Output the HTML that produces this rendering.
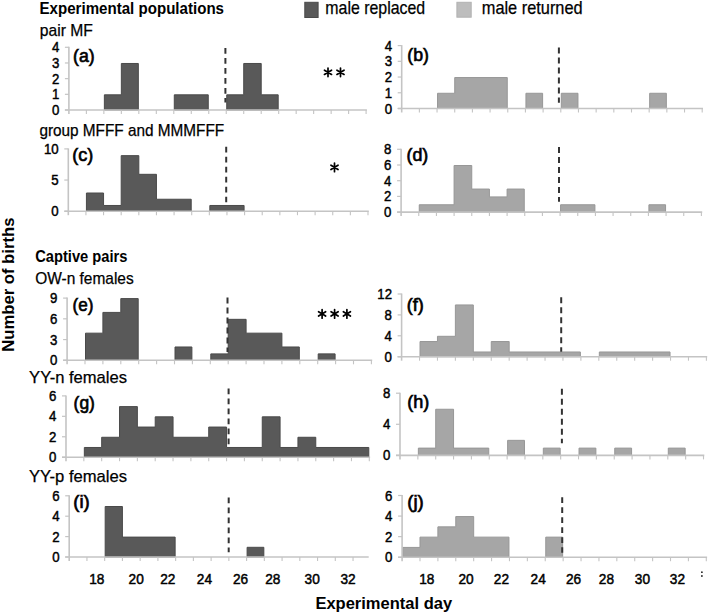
<!DOCTYPE html>
<html><head><meta charset="utf-8"><style>
html,body{margin:0;padding:0;background:#fff;}
svg{display:block;}
text{font-family:"Liberation Sans", sans-serif;fill:#000;}
.yl{font-size:14.4px;font-weight:normal;stroke:#000;stroke-width:0.45px;text-anchor:end;}
.xl{font-size:15.2px;font-weight:normal;stroke:#000;stroke-width:0.5px;text-anchor:middle;}
.pl{font-size:17.5px;font-weight:normal;stroke:#000;stroke-width:0.65px;}
.tb{font-weight:bold;}
.tr{font-weight:normal;stroke:#000;stroke-width:0.25px;}
</style></head><body>
<svg width="708" height="613" viewBox="0 0 708 613">
<rect width="708" height="613" fill="#fff"/>
<path d="M104.36 110L104.36 94.83L121.35 94.83L121.35 63.47L138.33 63.47L138.33 110Z" fill="#595959" stroke="#4a4a4a" stroke-width="1" stroke-linejoin="miter"/>
<path d="M174.29 110L174.29 94.83L208.26 94.83L208.26 110Z" fill="#595959" stroke="#4a4a4a" stroke-width="1" stroke-linejoin="miter"/>
<path d="M226.74 110L226.74 94.83L243.72 94.83L243.72 63.47L261.21 63.47L261.21 94.83L278.19 94.83L278.19 110Z" fill="#595959" stroke="#4a4a4a" stroke-width="1" stroke-linejoin="miter"/>
<line x1="68.9" y1="46.8" x2="68.9" y2="114" stroke="#c4c4c4" stroke-width="1.6"/>
<line x1="64.9" y1="110" x2="366.9" y2="110" stroke="#c4c4c4" stroke-width="1.6"/>
<line x1="64.9" y1="110" x2="68.9" y2="110" stroke="#c4c4c4" stroke-width="1.2"/>
<line x1="64.9" y1="94.33" x2="68.9" y2="94.33" stroke="#c4c4c4" stroke-width="1.2"/>
<line x1="64.9" y1="78.65" x2="68.9" y2="78.65" stroke="#c4c4c4" stroke-width="1.2"/>
<line x1="64.9" y1="62.97" x2="68.9" y2="62.97" stroke="#c4c4c4" stroke-width="1.2"/>
<line x1="64.9" y1="47.3" x2="68.9" y2="47.3" stroke="#c4c4c4" stroke-width="1.2"/>
<line x1="86.38" y1="110" x2="86.38" y2="114" stroke="#c4c4c4" stroke-width="1.1"/>
<line x1="103.86" y1="110" x2="103.86" y2="114" stroke="#c4c4c4" stroke-width="1.1"/>
<line x1="121.35" y1="110" x2="121.35" y2="114" stroke="#c4c4c4" stroke-width="1.1"/>
<line x1="138.83" y1="110" x2="138.83" y2="114" stroke="#c4c4c4" stroke-width="1.1"/>
<line x1="156.31" y1="110" x2="156.31" y2="114" stroke="#c4c4c4" stroke-width="1.1"/>
<line x1="173.79" y1="110" x2="173.79" y2="114" stroke="#c4c4c4" stroke-width="1.1"/>
<line x1="191.28" y1="110" x2="191.28" y2="114" stroke="#c4c4c4" stroke-width="1.1"/>
<line x1="208.76" y1="110" x2="208.76" y2="114" stroke="#c4c4c4" stroke-width="1.1"/>
<line x1="226.24" y1="110" x2="226.24" y2="114" stroke="#c4c4c4" stroke-width="1.1"/>
<line x1="243.72" y1="110" x2="243.72" y2="114" stroke="#c4c4c4" stroke-width="1.1"/>
<line x1="261.21" y1="110" x2="261.21" y2="114" stroke="#c4c4c4" stroke-width="1.1"/>
<line x1="278.69" y1="110" x2="278.69" y2="114" stroke="#c4c4c4" stroke-width="1.1"/>
<line x1="296.17" y1="110" x2="296.17" y2="114" stroke="#c4c4c4" stroke-width="1.1"/>
<line x1="313.65" y1="110" x2="313.65" y2="114" stroke="#c4c4c4" stroke-width="1.1"/>
<line x1="331.14" y1="110" x2="331.14" y2="114" stroke="#c4c4c4" stroke-width="1.1"/>
<line x1="348.62" y1="110" x2="348.62" y2="114" stroke="#c4c4c4" stroke-width="1.1"/>
<line x1="366.1" y1="110" x2="366.1" y2="114" stroke="#c4c4c4" stroke-width="1.1"/>
<line x1="225.4" y1="47.9" x2="225.4" y2="102.6" stroke="#333" stroke-width="2.0" stroke-dasharray="5.9 4.1"/>
<text transform="translate(59.3,115) scale(0.92,1)" class="yl">0</text>
<text transform="translate(59.3,99.33) scale(0.92,1)" class="yl">1</text>
<text transform="translate(59.3,83.65) scale(0.92,1)" class="yl">2</text>
<text transform="translate(59.3,67.97) scale(0.92,1)" class="yl">3</text>
<text transform="translate(59.3,52.3) scale(0.92,1)" class="yl">4</text>
<text x="73" y="61.58" class="pl" textLength="21.6" lengthAdjust="spacingAndGlyphs">(a)</text>
<path d="M437.55 108.5L437.55 93.28L454.73 93.28L454.73 77.55L507.26 77.55L507.26 108.5Z" fill="#a6a6a6" stroke="#979797" stroke-width="1" stroke-linejoin="miter"/>
<path d="M525.94 108.5L525.94 93.28L542.61 93.28L542.61 108.5Z" fill="#a6a6a6" stroke="#979797" stroke-width="1" stroke-linejoin="miter"/>
<path d="M561.29 108.5L561.29 93.28L577.96 93.28L577.96 108.5Z" fill="#a6a6a6" stroke="#979797" stroke-width="1" stroke-linejoin="miter"/>
<path d="M649.67 108.5L649.67 93.28L666.35 93.28L666.35 108.5Z" fill="#a6a6a6" stroke="#979797" stroke-width="1" stroke-linejoin="miter"/>
<line x1="401.7" y1="45.1" x2="401.7" y2="112.5" stroke="#c4c4c4" stroke-width="1.6"/>
<line x1="397.7" y1="108.5" x2="703" y2="108.5" stroke="#c4c4c4" stroke-width="1.6"/>
<line x1="397.7" y1="108.5" x2="401.7" y2="108.5" stroke="#c4c4c4" stroke-width="1.2"/>
<line x1="397.7" y1="92.78" x2="401.7" y2="92.78" stroke="#c4c4c4" stroke-width="1.2"/>
<line x1="397.7" y1="77.05" x2="401.7" y2="77.05" stroke="#c4c4c4" stroke-width="1.2"/>
<line x1="397.7" y1="61.33" x2="401.7" y2="61.33" stroke="#c4c4c4" stroke-width="1.2"/>
<line x1="397.7" y1="45.6" x2="401.7" y2="45.6" stroke="#c4c4c4" stroke-width="1.2"/>
<line x1="419.38" y1="108.5" x2="419.38" y2="112.5" stroke="#c4c4c4" stroke-width="1.1"/>
<line x1="437.05" y1="108.5" x2="437.05" y2="112.5" stroke="#c4c4c4" stroke-width="1.1"/>
<line x1="454.73" y1="108.5" x2="454.73" y2="112.5" stroke="#c4c4c4" stroke-width="1.1"/>
<line x1="472.41" y1="108.5" x2="472.41" y2="112.5" stroke="#c4c4c4" stroke-width="1.1"/>
<line x1="490.08" y1="108.5" x2="490.08" y2="112.5" stroke="#c4c4c4" stroke-width="1.1"/>
<line x1="507.76" y1="108.5" x2="507.76" y2="112.5" stroke="#c4c4c4" stroke-width="1.1"/>
<line x1="525.44" y1="108.5" x2="525.44" y2="112.5" stroke="#c4c4c4" stroke-width="1.1"/>
<line x1="543.11" y1="108.5" x2="543.11" y2="112.5" stroke="#c4c4c4" stroke-width="1.1"/>
<line x1="560.79" y1="108.5" x2="560.79" y2="112.5" stroke="#c4c4c4" stroke-width="1.1"/>
<line x1="578.46" y1="108.5" x2="578.46" y2="112.5" stroke="#c4c4c4" stroke-width="1.1"/>
<line x1="596.14" y1="108.5" x2="596.14" y2="112.5" stroke="#c4c4c4" stroke-width="1.1"/>
<line x1="613.82" y1="108.5" x2="613.82" y2="112.5" stroke="#c4c4c4" stroke-width="1.1"/>
<line x1="631.49" y1="108.5" x2="631.49" y2="112.5" stroke="#c4c4c4" stroke-width="1.1"/>
<line x1="649.17" y1="108.5" x2="649.17" y2="112.5" stroke="#c4c4c4" stroke-width="1.1"/>
<line x1="666.85" y1="108.5" x2="666.85" y2="112.5" stroke="#c4c4c4" stroke-width="1.1"/>
<line x1="684.52" y1="108.5" x2="684.52" y2="112.5" stroke="#c4c4c4" stroke-width="1.1"/>
<line x1="702.2" y1="108.5" x2="702.2" y2="112.5" stroke="#c4c4c4" stroke-width="1.1"/>
<line x1="558.9" y1="47.6" x2="558.9" y2="102.7" stroke="#333" stroke-width="2.0" stroke-dasharray="5.9 4.1"/>
<text transform="translate(392.1,113.5) scale(0.92,1)" class="yl">0</text>
<text transform="translate(392.1,97.78) scale(0.92,1)" class="yl">1</text>
<text transform="translate(392.1,82.05) scale(0.92,1)" class="yl">2</text>
<text transform="translate(392.1,66.33) scale(0.92,1)" class="yl">3</text>
<text transform="translate(392.1,50.6) scale(0.92,1)" class="yl">4</text>
<text x="407.3" y="61.38" class="pl" textLength="21.6" lengthAdjust="spacingAndGlyphs">(b)</text>
<path d="M86.43 211.2L86.43 193.01L103.56 193.01L103.56 205.47L121.19 205.47L121.19 155.63L138.82 155.63L138.82 174.32L156.45 174.32L156.45 199.24L191.21 199.24L191.21 211.2Z" fill="#595959" stroke="#4a4a4a" stroke-width="1" stroke-linejoin="miter"/>
<path d="M209.84 211.2L209.84 205.47L244.09 205.47L244.09 211.2Z" fill="#595959" stroke="#4a4a4a" stroke-width="1" stroke-linejoin="miter"/>
<line x1="68.3" y1="148.4" x2="68.3" y2="215.2" stroke="#c4c4c4" stroke-width="1.6"/>
<line x1="64.3" y1="211.2" x2="368.8" y2="211.2" stroke="#c4c4c4" stroke-width="1.6"/>
<line x1="64.3" y1="211.2" x2="68.3" y2="211.2" stroke="#c4c4c4" stroke-width="1.2"/>
<line x1="64.3" y1="180.05" x2="68.3" y2="180.05" stroke="#c4c4c4" stroke-width="1.2"/>
<line x1="64.3" y1="148.9" x2="68.3" y2="148.9" stroke="#c4c4c4" stroke-width="1.2"/>
<line x1="85.93" y1="211.2" x2="85.93" y2="215.2" stroke="#c4c4c4" stroke-width="1.1"/>
<line x1="103.56" y1="211.2" x2="103.56" y2="215.2" stroke="#c4c4c4" stroke-width="1.1"/>
<line x1="121.19" y1="211.2" x2="121.19" y2="215.2" stroke="#c4c4c4" stroke-width="1.1"/>
<line x1="138.82" y1="211.2" x2="138.82" y2="215.2" stroke="#c4c4c4" stroke-width="1.1"/>
<line x1="156.45" y1="211.2" x2="156.45" y2="215.2" stroke="#c4c4c4" stroke-width="1.1"/>
<line x1="174.08" y1="211.2" x2="174.08" y2="215.2" stroke="#c4c4c4" stroke-width="1.1"/>
<line x1="191.71" y1="211.2" x2="191.71" y2="215.2" stroke="#c4c4c4" stroke-width="1.1"/>
<line x1="209.34" y1="211.2" x2="209.34" y2="215.2" stroke="#c4c4c4" stroke-width="1.1"/>
<line x1="226.96" y1="211.2" x2="226.96" y2="215.2" stroke="#c4c4c4" stroke-width="1.1"/>
<line x1="244.59" y1="211.2" x2="244.59" y2="215.2" stroke="#c4c4c4" stroke-width="1.1"/>
<line x1="262.22" y1="211.2" x2="262.22" y2="215.2" stroke="#c4c4c4" stroke-width="1.1"/>
<line x1="279.85" y1="211.2" x2="279.85" y2="215.2" stroke="#c4c4c4" stroke-width="1.1"/>
<line x1="297.48" y1="211.2" x2="297.48" y2="215.2" stroke="#c4c4c4" stroke-width="1.1"/>
<line x1="315.11" y1="211.2" x2="315.11" y2="215.2" stroke="#c4c4c4" stroke-width="1.1"/>
<line x1="332.74" y1="211.2" x2="332.74" y2="215.2" stroke="#c4c4c4" stroke-width="1.1"/>
<line x1="350.37" y1="211.2" x2="350.37" y2="215.2" stroke="#c4c4c4" stroke-width="1.1"/>
<line x1="368" y1="211.2" x2="368" y2="215.2" stroke="#c4c4c4" stroke-width="1.1"/>
<line x1="226.2" y1="146.7" x2="226.2" y2="202.3" stroke="#333" stroke-width="2.0" stroke-dasharray="5.9 4.1"/>
<text transform="translate(58.7,216.2) scale(0.92,1)" class="yl">0</text>
<text transform="translate(58.7,185.05) scale(0.92,1)" class="yl">5</text>
<text transform="translate(58.7,153.9) scale(0.92,1)" class="yl">10</text>
<text x="72.2" y="161.28" class="pl" textLength="21" lengthAdjust="spacingAndGlyphs">(c)</text>
<path d="M419.26 212.1L419.26 204.75L454.09 204.75L454.09 165.5L471.76 165.5L471.76 189.05L489.42 189.05L489.42 196.9L507.09 196.9L507.09 189.05L524.25 189.05L524.25 212.1Z" fill="#a6a6a6" stroke="#979797" stroke-width="1" stroke-linejoin="miter"/>
<path d="M560.58 212.1L560.58 204.75L594.91 204.75L594.91 212.1Z" fill="#a6a6a6" stroke="#979797" stroke-width="1" stroke-linejoin="miter"/>
<path d="M648.91 212.1L648.91 204.75L665.57 204.75L665.57 212.1Z" fill="#a6a6a6" stroke="#979797" stroke-width="1" stroke-linejoin="miter"/>
<line x1="401.1" y1="148.8" x2="401.1" y2="216.1" stroke="#c4c4c4" stroke-width="1.6"/>
<line x1="397.1" y1="212.1" x2="702.2" y2="212.1" stroke="#c4c4c4" stroke-width="1.6"/>
<line x1="397.1" y1="212.1" x2="401.1" y2="212.1" stroke="#c4c4c4" stroke-width="1.2"/>
<line x1="397.1" y1="196.4" x2="401.1" y2="196.4" stroke="#c4c4c4" stroke-width="1.2"/>
<line x1="397.1" y1="180.7" x2="401.1" y2="180.7" stroke="#c4c4c4" stroke-width="1.2"/>
<line x1="397.1" y1="165" x2="401.1" y2="165" stroke="#c4c4c4" stroke-width="1.2"/>
<line x1="397.1" y1="149.3" x2="401.1" y2="149.3" stroke="#c4c4c4" stroke-width="1.2"/>
<line x1="418.76" y1="212.1" x2="418.76" y2="216.1" stroke="#c4c4c4" stroke-width="1.1"/>
<line x1="436.43" y1="212.1" x2="436.43" y2="216.1" stroke="#c4c4c4" stroke-width="1.1"/>
<line x1="454.09" y1="212.1" x2="454.09" y2="216.1" stroke="#c4c4c4" stroke-width="1.1"/>
<line x1="471.76" y1="212.1" x2="471.76" y2="216.1" stroke="#c4c4c4" stroke-width="1.1"/>
<line x1="489.42" y1="212.1" x2="489.42" y2="216.1" stroke="#c4c4c4" stroke-width="1.1"/>
<line x1="507.09" y1="212.1" x2="507.09" y2="216.1" stroke="#c4c4c4" stroke-width="1.1"/>
<line x1="524.75" y1="212.1" x2="524.75" y2="216.1" stroke="#c4c4c4" stroke-width="1.1"/>
<line x1="542.42" y1="212.1" x2="542.42" y2="216.1" stroke="#c4c4c4" stroke-width="1.1"/>
<line x1="560.08" y1="212.1" x2="560.08" y2="216.1" stroke="#c4c4c4" stroke-width="1.1"/>
<line x1="577.75" y1="212.1" x2="577.75" y2="216.1" stroke="#c4c4c4" stroke-width="1.1"/>
<line x1="595.41" y1="212.1" x2="595.41" y2="216.1" stroke="#c4c4c4" stroke-width="1.1"/>
<line x1="613.08" y1="212.1" x2="613.08" y2="216.1" stroke="#c4c4c4" stroke-width="1.1"/>
<line x1="630.74" y1="212.1" x2="630.74" y2="216.1" stroke="#c4c4c4" stroke-width="1.1"/>
<line x1="648.41" y1="212.1" x2="648.41" y2="216.1" stroke="#c4c4c4" stroke-width="1.1"/>
<line x1="666.07" y1="212.1" x2="666.07" y2="216.1" stroke="#c4c4c4" stroke-width="1.1"/>
<line x1="683.74" y1="212.1" x2="683.74" y2="216.1" stroke="#c4c4c4" stroke-width="1.1"/>
<line x1="701.4" y1="212.1" x2="701.4" y2="216.1" stroke="#c4c4c4" stroke-width="1.1"/>
<line x1="559" y1="147.1" x2="559" y2="201.7" stroke="#333" stroke-width="2.0" stroke-dasharray="5.9 4.1"/>
<text transform="translate(391.5,217.1) scale(0.92,1)" class="yl">0</text>
<text transform="translate(391.5,201.4) scale(0.92,1)" class="yl">2</text>
<text transform="translate(391.5,185.7) scale(0.92,1)" class="yl">4</text>
<text transform="translate(391.5,170) scale(0.92,1)" class="yl">6</text>
<text transform="translate(391.5,154.3) scale(0.92,1)" class="yl">8</text>
<text x="406.5" y="161.08" class="pl" textLength="21.8" lengthAdjust="spacingAndGlyphs">(d)</text>
<path d="M85.5 360.3L85.5 333.16L102.9 333.16L102.9 312.42L120.8 312.42L120.8 298.6L138.2 298.6L138.2 360.3Z" fill="#595959" stroke="#4a4a4a" stroke-width="1" stroke-linejoin="miter"/>
<path d="M175 360.3L175 346.98L191.9 346.98L191.9 360.3Z" fill="#595959" stroke="#4a4a4a" stroke-width="1" stroke-linejoin="miter"/>
<path d="M210.8 360.3L210.8 353.89L228.2 353.89L228.2 319.33L246.1 319.33L246.1 333.16L281.9 333.16L281.9 346.98L299.3 346.98L299.3 360.3Z" fill="#595959" stroke="#4a4a4a" stroke-width="1" stroke-linejoin="miter"/>
<path d="M318.2 360.3L318.2 353.89L335.1 353.89L335.1 360.3Z" fill="#595959" stroke="#4a4a4a" stroke-width="1" stroke-linejoin="miter"/>
<line x1="67.1" y1="297.6" x2="67.1" y2="364.3" stroke="#c4c4c4" stroke-width="1.6"/>
<line x1="63.1" y1="360.3" x2="372.2" y2="360.3" stroke="#c4c4c4" stroke-width="1.6"/>
<line x1="63.1" y1="360.3" x2="67.1" y2="360.3" stroke="#c4c4c4" stroke-width="1.2"/>
<line x1="63.1" y1="339.57" x2="67.1" y2="339.57" stroke="#c4c4c4" stroke-width="1.2"/>
<line x1="63.1" y1="318.83" x2="67.1" y2="318.83" stroke="#c4c4c4" stroke-width="1.2"/>
<line x1="63.1" y1="298.1" x2="67.1" y2="298.1" stroke="#c4c4c4" stroke-width="1.2"/>
<line x1="85" y1="360.3" x2="85" y2="364.3" stroke="#c4c4c4" stroke-width="1.1"/>
<line x1="102.9" y1="360.3" x2="102.9" y2="364.3" stroke="#c4c4c4" stroke-width="1.1"/>
<line x1="120.8" y1="360.3" x2="120.8" y2="364.3" stroke="#c4c4c4" stroke-width="1.1"/>
<line x1="138.7" y1="360.3" x2="138.7" y2="364.3" stroke="#c4c4c4" stroke-width="1.1"/>
<line x1="156.6" y1="360.3" x2="156.6" y2="364.3" stroke="#c4c4c4" stroke-width="1.1"/>
<line x1="174.5" y1="360.3" x2="174.5" y2="364.3" stroke="#c4c4c4" stroke-width="1.1"/>
<line x1="192.4" y1="360.3" x2="192.4" y2="364.3" stroke="#c4c4c4" stroke-width="1.1"/>
<line x1="210.3" y1="360.3" x2="210.3" y2="364.3" stroke="#c4c4c4" stroke-width="1.1"/>
<line x1="228.2" y1="360.3" x2="228.2" y2="364.3" stroke="#c4c4c4" stroke-width="1.1"/>
<line x1="246.1" y1="360.3" x2="246.1" y2="364.3" stroke="#c4c4c4" stroke-width="1.1"/>
<line x1="264" y1="360.3" x2="264" y2="364.3" stroke="#c4c4c4" stroke-width="1.1"/>
<line x1="281.9" y1="360.3" x2="281.9" y2="364.3" stroke="#c4c4c4" stroke-width="1.1"/>
<line x1="299.8" y1="360.3" x2="299.8" y2="364.3" stroke="#c4c4c4" stroke-width="1.1"/>
<line x1="317.7" y1="360.3" x2="317.7" y2="364.3" stroke="#c4c4c4" stroke-width="1.1"/>
<line x1="335.6" y1="360.3" x2="335.6" y2="364.3" stroke="#c4c4c4" stroke-width="1.1"/>
<line x1="353.5" y1="360.3" x2="353.5" y2="364.3" stroke="#c4c4c4" stroke-width="1.1"/>
<line x1="371.4" y1="360.3" x2="371.4" y2="364.3" stroke="#c4c4c4" stroke-width="1.1"/>
<line x1="227.5" y1="297.5" x2="227.5" y2="352.1" stroke="#333" stroke-width="2.0" stroke-dasharray="5.9 4.1"/>
<text transform="translate(57.5,365.3) scale(0.92,1)" class="yl">0</text>
<text transform="translate(57.5,344.57) scale(0.92,1)" class="yl">3</text>
<text transform="translate(57.5,323.83) scale(0.92,1)" class="yl">6</text>
<text transform="translate(57.5,303.1) scale(0.92,1)" class="yl">9</text>
<text x="72.5" y="311.08" class="pl" textLength="20.9" lengthAdjust="spacingAndGlyphs">(e)</text>
<path d="M420.03 356.7L420.03 341.52L437.46 341.52L437.46 336.3L455.39 336.3L455.39 304.95L473.32 304.95L473.32 351.97L491.25 351.97L491.25 341.52L509.18 341.52L509.18 351.97L580.39 351.97L580.39 356.7Z" fill="#a6a6a6" stroke="#979797" stroke-width="1" stroke-linejoin="miter"/>
<path d="M599.32 356.7L599.32 351.97L670.04 351.97L670.04 356.7Z" fill="#a6a6a6" stroke="#979797" stroke-width="1" stroke-linejoin="miter"/>
<line x1="401.6" y1="293.5" x2="401.6" y2="360.7" stroke="#c4c4c4" stroke-width="1.6"/>
<line x1="397.6" y1="356.7" x2="707.2" y2="356.7" stroke="#c4c4c4" stroke-width="1.6"/>
<line x1="397.6" y1="356.7" x2="401.6" y2="356.7" stroke="#c4c4c4" stroke-width="1.2"/>
<line x1="397.6" y1="335.8" x2="401.6" y2="335.8" stroke="#c4c4c4" stroke-width="1.2"/>
<line x1="397.6" y1="314.9" x2="401.6" y2="314.9" stroke="#c4c4c4" stroke-width="1.2"/>
<line x1="397.6" y1="294" x2="401.6" y2="294" stroke="#c4c4c4" stroke-width="1.2"/>
<line x1="419.53" y1="356.7" x2="419.53" y2="360.7" stroke="#c4c4c4" stroke-width="1.1"/>
<line x1="437.46" y1="356.7" x2="437.46" y2="360.7" stroke="#c4c4c4" stroke-width="1.1"/>
<line x1="455.39" y1="356.7" x2="455.39" y2="360.7" stroke="#c4c4c4" stroke-width="1.1"/>
<line x1="473.32" y1="356.7" x2="473.32" y2="360.7" stroke="#c4c4c4" stroke-width="1.1"/>
<line x1="491.25" y1="356.7" x2="491.25" y2="360.7" stroke="#c4c4c4" stroke-width="1.1"/>
<line x1="509.18" y1="356.7" x2="509.18" y2="360.7" stroke="#c4c4c4" stroke-width="1.1"/>
<line x1="527.11" y1="356.7" x2="527.11" y2="360.7" stroke="#c4c4c4" stroke-width="1.1"/>
<line x1="545.04" y1="356.7" x2="545.04" y2="360.7" stroke="#c4c4c4" stroke-width="1.1"/>
<line x1="562.96" y1="356.7" x2="562.96" y2="360.7" stroke="#c4c4c4" stroke-width="1.1"/>
<line x1="580.89" y1="356.7" x2="580.89" y2="360.7" stroke="#c4c4c4" stroke-width="1.1"/>
<line x1="598.82" y1="356.7" x2="598.82" y2="360.7" stroke="#c4c4c4" stroke-width="1.1"/>
<line x1="616.75" y1="356.7" x2="616.75" y2="360.7" stroke="#c4c4c4" stroke-width="1.1"/>
<line x1="634.68" y1="356.7" x2="634.68" y2="360.7" stroke="#c4c4c4" stroke-width="1.1"/>
<line x1="652.61" y1="356.7" x2="652.61" y2="360.7" stroke="#c4c4c4" stroke-width="1.1"/>
<line x1="670.54" y1="356.7" x2="670.54" y2="360.7" stroke="#c4c4c4" stroke-width="1.1"/>
<line x1="688.47" y1="356.7" x2="688.47" y2="360.7" stroke="#c4c4c4" stroke-width="1.1"/>
<line x1="706.4" y1="356.7" x2="706.4" y2="360.7" stroke="#c4c4c4" stroke-width="1.1"/>
<line x1="561.2" y1="297.3" x2="561.2" y2="351.7" stroke="#333" stroke-width="2.0" stroke-dasharray="5.9 4.1"/>
<text transform="translate(392,361.7) scale(0.92,1)" class="yl">0</text>
<text transform="translate(392,340.8) scale(0.92,1)" class="yl">4</text>
<text transform="translate(392,319.9) scale(0.92,1)" class="yl">8</text>
<text transform="translate(392,299) scale(0.92,1)" class="yl">12</text>
<text x="406.7" y="311.08" class="pl" textLength="17.1" lengthAdjust="spacingAndGlyphs">(f)</text>
<path d="M84.34 457.2L84.34 447.48L101.68 447.48L101.68 437.27L119.52 437.27L119.52 406.62L137.36 406.62L137.36 427.05L155.21 427.05L155.21 416.83L173.05 416.83L173.05 437.27L208.73 437.27L208.73 427.05L226.57 427.05L226.57 447.48L262.25 447.48L262.25 416.83L280.09 416.83L280.09 447.48L297.94 447.48L297.94 437.27L315.78 437.27L315.78 447.48L368.8 447.48L368.8 457.2Z" fill="#595959" stroke="#4a4a4a" stroke-width="1" stroke-linejoin="miter"/>
<line x1="66" y1="395.4" x2="66" y2="461.2" stroke="#c4c4c4" stroke-width="1.6"/>
<line x1="62" y1="457.2" x2="370.1" y2="457.2" stroke="#c4c4c4" stroke-width="1.6"/>
<line x1="62" y1="457.2" x2="66" y2="457.2" stroke="#c4c4c4" stroke-width="1.2"/>
<line x1="62" y1="436.77" x2="66" y2="436.77" stroke="#c4c4c4" stroke-width="1.2"/>
<line x1="62" y1="416.33" x2="66" y2="416.33" stroke="#c4c4c4" stroke-width="1.2"/>
<line x1="62" y1="395.9" x2="66" y2="395.9" stroke="#c4c4c4" stroke-width="1.2"/>
<line x1="83.84" y1="457.2" x2="83.84" y2="461.2" stroke="#c4c4c4" stroke-width="1.1"/>
<line x1="101.68" y1="457.2" x2="101.68" y2="461.2" stroke="#c4c4c4" stroke-width="1.1"/>
<line x1="119.52" y1="457.2" x2="119.52" y2="461.2" stroke="#c4c4c4" stroke-width="1.1"/>
<line x1="137.36" y1="457.2" x2="137.36" y2="461.2" stroke="#c4c4c4" stroke-width="1.1"/>
<line x1="155.21" y1="457.2" x2="155.21" y2="461.2" stroke="#c4c4c4" stroke-width="1.1"/>
<line x1="173.05" y1="457.2" x2="173.05" y2="461.2" stroke="#c4c4c4" stroke-width="1.1"/>
<line x1="190.89" y1="457.2" x2="190.89" y2="461.2" stroke="#c4c4c4" stroke-width="1.1"/>
<line x1="208.73" y1="457.2" x2="208.73" y2="461.2" stroke="#c4c4c4" stroke-width="1.1"/>
<line x1="226.57" y1="457.2" x2="226.57" y2="461.2" stroke="#c4c4c4" stroke-width="1.1"/>
<line x1="244.41" y1="457.2" x2="244.41" y2="461.2" stroke="#c4c4c4" stroke-width="1.1"/>
<line x1="262.25" y1="457.2" x2="262.25" y2="461.2" stroke="#c4c4c4" stroke-width="1.1"/>
<line x1="280.09" y1="457.2" x2="280.09" y2="461.2" stroke="#c4c4c4" stroke-width="1.1"/>
<line x1="297.94" y1="457.2" x2="297.94" y2="461.2" stroke="#c4c4c4" stroke-width="1.1"/>
<line x1="315.78" y1="457.2" x2="315.78" y2="461.2" stroke="#c4c4c4" stroke-width="1.1"/>
<line x1="333.62" y1="457.2" x2="333.62" y2="461.2" stroke="#c4c4c4" stroke-width="1.1"/>
<line x1="351.46" y1="457.2" x2="351.46" y2="461.2" stroke="#c4c4c4" stroke-width="1.1"/>
<line x1="369.3" y1="457.2" x2="369.3" y2="461.2" stroke="#c4c4c4" stroke-width="1.1"/>
<line x1="228.6" y1="388.4" x2="228.6" y2="444.3" stroke="#333" stroke-width="2.0" stroke-dasharray="5.9 4.1"/>
<text transform="translate(56.4,462.2) scale(0.92,1)" class="yl">0</text>
<text transform="translate(56.4,441.77) scale(0.92,1)" class="yl">2</text>
<text transform="translate(56.4,421.33) scale(0.92,1)" class="yl">4</text>
<text transform="translate(56.4,400.9) scale(0.92,1)" class="yl">6</text>
<text x="73.6" y="408.58" class="pl" textLength="21.3" lengthAdjust="spacingAndGlyphs">(g)</text>
<path d="M418.35 455.4L418.35 448.12L435.71 448.12L435.71 409.25L453.56 409.25L453.56 448.12L488.76 448.12L488.76 455.4Z" fill="#a6a6a6" stroke="#979797" stroke-width="1" stroke-linejoin="miter"/>
<path d="M507.62 455.4L507.62 440.35L524.47 440.35L524.47 455.4Z" fill="#a6a6a6" stroke="#979797" stroke-width="1" stroke-linejoin="miter"/>
<path d="M543.32 455.4L543.32 448.12L560.18 448.12L560.18 455.4Z" fill="#a6a6a6" stroke="#979797" stroke-width="1" stroke-linejoin="miter"/>
<path d="M579.03 455.4L579.03 448.12L595.88 448.12L595.88 455.4Z" fill="#a6a6a6" stroke="#979797" stroke-width="1" stroke-linejoin="miter"/>
<path d="M614.74 455.4L614.74 448.12L631.59 448.12L631.59 455.4Z" fill="#a6a6a6" stroke="#979797" stroke-width="1" stroke-linejoin="miter"/>
<path d="M668.29 455.4L668.29 448.12L685.15 448.12L685.15 455.4Z" fill="#a6a6a6" stroke="#979797" stroke-width="1" stroke-linejoin="miter"/>
<line x1="400" y1="392.7" x2="400" y2="459.4" stroke="#c4c4c4" stroke-width="1.6"/>
<line x1="396" y1="455.4" x2="704.3" y2="455.4" stroke="#c4c4c4" stroke-width="1.6"/>
<line x1="396" y1="455.4" x2="400" y2="455.4" stroke="#c4c4c4" stroke-width="1.2"/>
<line x1="396" y1="424.3" x2="400" y2="424.3" stroke="#c4c4c4" stroke-width="1.2"/>
<line x1="396" y1="393.2" x2="400" y2="393.2" stroke="#c4c4c4" stroke-width="1.2"/>
<line x1="417.85" y1="455.4" x2="417.85" y2="459.4" stroke="#c4c4c4" stroke-width="1.1"/>
<line x1="435.71" y1="455.4" x2="435.71" y2="459.4" stroke="#c4c4c4" stroke-width="1.1"/>
<line x1="453.56" y1="455.4" x2="453.56" y2="459.4" stroke="#c4c4c4" stroke-width="1.1"/>
<line x1="471.41" y1="455.4" x2="471.41" y2="459.4" stroke="#c4c4c4" stroke-width="1.1"/>
<line x1="489.26" y1="455.4" x2="489.26" y2="459.4" stroke="#c4c4c4" stroke-width="1.1"/>
<line x1="507.12" y1="455.4" x2="507.12" y2="459.4" stroke="#c4c4c4" stroke-width="1.1"/>
<line x1="524.97" y1="455.4" x2="524.97" y2="459.4" stroke="#c4c4c4" stroke-width="1.1"/>
<line x1="542.82" y1="455.4" x2="542.82" y2="459.4" stroke="#c4c4c4" stroke-width="1.1"/>
<line x1="560.68" y1="455.4" x2="560.68" y2="459.4" stroke="#c4c4c4" stroke-width="1.1"/>
<line x1="578.53" y1="455.4" x2="578.53" y2="459.4" stroke="#c4c4c4" stroke-width="1.1"/>
<line x1="596.38" y1="455.4" x2="596.38" y2="459.4" stroke="#c4c4c4" stroke-width="1.1"/>
<line x1="614.24" y1="455.4" x2="614.24" y2="459.4" stroke="#c4c4c4" stroke-width="1.1"/>
<line x1="632.09" y1="455.4" x2="632.09" y2="459.4" stroke="#c4c4c4" stroke-width="1.1"/>
<line x1="649.94" y1="455.4" x2="649.94" y2="459.4" stroke="#c4c4c4" stroke-width="1.1"/>
<line x1="667.79" y1="455.4" x2="667.79" y2="459.4" stroke="#c4c4c4" stroke-width="1.1"/>
<line x1="685.65" y1="455.4" x2="685.65" y2="459.4" stroke="#c4c4c4" stroke-width="1.1"/>
<line x1="703.5" y1="455.4" x2="703.5" y2="459.4" stroke="#c4c4c4" stroke-width="1.1"/>
<line x1="561.9" y1="388.8" x2="561.9" y2="443.3" stroke="#333" stroke-width="2.0" stroke-dasharray="5.9 4.1"/>
<text transform="translate(390.4,460.4) scale(0.92,1)" class="yl">0</text>
<text transform="translate(390.4,429.3) scale(0.92,1)" class="yl">4</text>
<text transform="translate(390.4,398.2) scale(0.92,1)" class="yl">8</text>
<text x="407.3" y="408.33" class="pl" textLength="22.1" lengthAdjust="spacingAndGlyphs">(h)</text>
<path d="M105.18 557L105.18 506.5L122.42 506.5L122.42 537.1L175.14 537.1L175.14 557Z" fill="#595959" stroke="#4a4a4a" stroke-width="1" stroke-linejoin="miter"/>
<path d="M247.1 557L247.1 547.3L263.84 547.3L263.84 557Z" fill="#595959" stroke="#4a4a4a" stroke-width="1" stroke-linejoin="miter"/>
<line x1="69.2" y1="495.3" x2="69.2" y2="561" stroke="#c4c4c4" stroke-width="1.6"/>
<line x1="65.2" y1="557" x2="368.7" y2="557" stroke="#c4c4c4" stroke-width="1.6"/>
<line x1="65.2" y1="557" x2="69.2" y2="557" stroke="#c4c4c4" stroke-width="1.2"/>
<line x1="65.2" y1="536.6" x2="69.2" y2="536.6" stroke="#c4c4c4" stroke-width="1.2"/>
<line x1="65.2" y1="516.2" x2="69.2" y2="516.2" stroke="#c4c4c4" stroke-width="1.2"/>
<line x1="65.2" y1="495.8" x2="69.2" y2="495.8" stroke="#c4c4c4" stroke-width="1.2"/>
<line x1="86.94" y1="557" x2="86.94" y2="561" stroke="#c4c4c4" stroke-width="1.1"/>
<line x1="104.68" y1="557" x2="104.68" y2="561" stroke="#c4c4c4" stroke-width="1.1"/>
<line x1="122.42" y1="557" x2="122.42" y2="561" stroke="#c4c4c4" stroke-width="1.1"/>
<line x1="140.16" y1="557" x2="140.16" y2="561" stroke="#c4c4c4" stroke-width="1.1"/>
<line x1="157.9" y1="557" x2="157.9" y2="561" stroke="#c4c4c4" stroke-width="1.1"/>
<line x1="175.64" y1="557" x2="175.64" y2="561" stroke="#c4c4c4" stroke-width="1.1"/>
<line x1="193.38" y1="557" x2="193.38" y2="561" stroke="#c4c4c4" stroke-width="1.1"/>
<line x1="211.12" y1="557" x2="211.12" y2="561" stroke="#c4c4c4" stroke-width="1.1"/>
<line x1="228.86" y1="557" x2="228.86" y2="561" stroke="#c4c4c4" stroke-width="1.1"/>
<line x1="246.6" y1="557" x2="246.6" y2="561" stroke="#c4c4c4" stroke-width="1.1"/>
<line x1="264.34" y1="557" x2="264.34" y2="561" stroke="#c4c4c4" stroke-width="1.1"/>
<line x1="282.08" y1="557" x2="282.08" y2="561" stroke="#c4c4c4" stroke-width="1.1"/>
<line x1="299.82" y1="557" x2="299.82" y2="561" stroke="#c4c4c4" stroke-width="1.1"/>
<line x1="317.56" y1="557" x2="317.56" y2="561" stroke="#c4c4c4" stroke-width="1.1"/>
<line x1="335.3" y1="557" x2="335.3" y2="561" stroke="#c4c4c4" stroke-width="1.1"/>
<line x1="353.04" y1="557" x2="353.04" y2="561" stroke="#c4c4c4" stroke-width="1.1"/>
<line x1="228.7" y1="497.4" x2="228.7" y2="552.2" stroke="#333" stroke-width="2.0" stroke-dasharray="5.9 4.1"/>
<text transform="translate(59.6,562) scale(0.92,1)" class="yl">0</text>
<text transform="translate(59.6,541.6) scale(0.92,1)" class="yl">2</text>
<text transform="translate(59.6,521.2) scale(0.92,1)" class="yl">4</text>
<text transform="translate(59.6,500.8) scale(0.92,1)" class="yl">6</text>
<text x="73.3" y="507.53" class="pl" textLength="16.5" lengthAdjust="spacingAndGlyphs">(i)</text>
<path d="M402.6 557.2L402.6 547.42L419.99 547.42L419.99 537.13L437.89 537.13L437.89 526.85L455.78 526.85L455.78 516.57L473.68 516.57L473.68 537.13L508.96 537.13L508.96 557.2Z" fill="#a6a6a6" stroke="#979797" stroke-width="1" stroke-linejoin="miter"/>
<path d="M545.75 557.2L545.75 537.13L562.65 537.13L562.65 557.2Z" fill="#a6a6a6" stroke="#979797" stroke-width="1" stroke-linejoin="miter"/>
<line x1="402.1" y1="495" x2="402.1" y2="561.2" stroke="#c4c4c4" stroke-width="1.6"/>
<line x1="398.1" y1="557.2" x2="707.1" y2="557.2" stroke="#c4c4c4" stroke-width="1.6"/>
<line x1="398.1" y1="557.2" x2="402.1" y2="557.2" stroke="#c4c4c4" stroke-width="1.2"/>
<line x1="398.1" y1="536.63" x2="402.1" y2="536.63" stroke="#c4c4c4" stroke-width="1.2"/>
<line x1="398.1" y1="516.07" x2="402.1" y2="516.07" stroke="#c4c4c4" stroke-width="1.2"/>
<line x1="398.1" y1="495.5" x2="402.1" y2="495.5" stroke="#c4c4c4" stroke-width="1.2"/>
<line x1="419.99" y1="557.2" x2="419.99" y2="561.2" stroke="#c4c4c4" stroke-width="1.1"/>
<line x1="437.89" y1="557.2" x2="437.89" y2="561.2" stroke="#c4c4c4" stroke-width="1.1"/>
<line x1="455.78" y1="557.2" x2="455.78" y2="561.2" stroke="#c4c4c4" stroke-width="1.1"/>
<line x1="473.68" y1="557.2" x2="473.68" y2="561.2" stroke="#c4c4c4" stroke-width="1.1"/>
<line x1="491.57" y1="557.2" x2="491.57" y2="561.2" stroke="#c4c4c4" stroke-width="1.1"/>
<line x1="509.46" y1="557.2" x2="509.46" y2="561.2" stroke="#c4c4c4" stroke-width="1.1"/>
<line x1="527.36" y1="557.2" x2="527.36" y2="561.2" stroke="#c4c4c4" stroke-width="1.1"/>
<line x1="545.25" y1="557.2" x2="545.25" y2="561.2" stroke="#c4c4c4" stroke-width="1.1"/>
<line x1="563.15" y1="557.2" x2="563.15" y2="561.2" stroke="#c4c4c4" stroke-width="1.1"/>
<line x1="581.04" y1="557.2" x2="581.04" y2="561.2" stroke="#c4c4c4" stroke-width="1.1"/>
<line x1="598.94" y1="557.2" x2="598.94" y2="561.2" stroke="#c4c4c4" stroke-width="1.1"/>
<line x1="616.83" y1="557.2" x2="616.83" y2="561.2" stroke="#c4c4c4" stroke-width="1.1"/>
<line x1="634.72" y1="557.2" x2="634.72" y2="561.2" stroke="#c4c4c4" stroke-width="1.1"/>
<line x1="652.62" y1="557.2" x2="652.62" y2="561.2" stroke="#c4c4c4" stroke-width="1.1"/>
<line x1="670.51" y1="557.2" x2="670.51" y2="561.2" stroke="#c4c4c4" stroke-width="1.1"/>
<line x1="688.41" y1="557.2" x2="688.41" y2="561.2" stroke="#c4c4c4" stroke-width="1.1"/>
<line x1="706.3" y1="557.2" x2="706.3" y2="561.2" stroke="#c4c4c4" stroke-width="1.1"/>
<line x1="562.2" y1="497.2" x2="562.2" y2="552.7" stroke="#333" stroke-width="2.0" stroke-dasharray="5.9 4.1"/>
<text transform="translate(392.5,562.2) scale(0.92,1)" class="yl">0</text>
<text transform="translate(392.5,541.63) scale(0.92,1)" class="yl">2</text>
<text transform="translate(392.5,521.07) scale(0.92,1)" class="yl">4</text>
<text transform="translate(392.5,500.5) scale(0.92,1)" class="yl">6</text>
<text x="407.3" y="507.53" class="pl" textLength="16.5" lengthAdjust="spacingAndGlyphs">(j)</text>
<text transform="translate(96.85,584.0) scale(0.9,1)" class="xl">18</text>
<text transform="translate(136.2,584.0) scale(0.9,1)" class="xl">20</text>
<text transform="translate(167.8,584.0) scale(0.9,1)" class="xl">22</text>
<text transform="translate(204.4,584.0) scale(0.9,1)" class="xl">24</text>
<text transform="translate(240.6,584.0) scale(0.9,1)" class="xl">26</text>
<text transform="translate(272.8,584.0) scale(0.9,1)" class="xl">28</text>
<text transform="translate(312.2,584.0) scale(0.9,1)" class="xl">30</text>
<text transform="translate(348.05,584.0) scale(0.9,1)" class="xl">32</text>
<text transform="translate(426.8,584.0) scale(0.9,1)" class="xl">18</text>
<text transform="translate(466,584.0) scale(0.9,1)" class="xl">20</text>
<text transform="translate(501.4,584.0) scale(0.9,1)" class="xl">22</text>
<text transform="translate(538.15,584.0) scale(0.9,1)" class="xl">24</text>
<text transform="translate(573.55,584.0) scale(0.9,1)" class="xl">26</text>
<text transform="translate(606.4,584.0) scale(0.9,1)" class="xl">28</text>
<text transform="translate(642.4,584.0) scale(0.9,1)" class="xl">30</text>
<text transform="translate(677.45,584.0) scale(0.9,1)" class="xl">32</text>
<path d="M328 76.6L328 68M324.46 74.45L331.54 70.15M324.46 70.15L331.54 74.45" stroke="#000" stroke-width="1.7" stroke-linecap="round" fill="none"/>
<path d="M340.5 76.6L340.5 68M336.96 74.45L344.04 70.15M336.96 70.15L344.04 74.45" stroke="#000" stroke-width="1.7" stroke-linecap="round" fill="none"/>
<path d="M334.5 171.7L334.5 163.1M330.96 169.55L338.04 165.25M330.96 165.25L338.04 169.55" stroke="#000" stroke-width="1.7" stroke-linecap="round" fill="none"/>
<path d="M322.1 318.2L322.1 309.6M318.56 316.05L325.64 311.75M318.56 311.75L325.64 316.05" stroke="#000" stroke-width="1.7" stroke-linecap="round" fill="none"/>
<path d="M334.6 318.2L334.6 309.6M331.06 316.05L338.14 311.75M331.06 311.75L338.14 316.05" stroke="#000" stroke-width="1.7" stroke-linecap="round" fill="none"/>
<path d="M346.9 318.2L346.9 309.6M343.36 316.05L350.44 311.75M343.36 311.75L350.44 316.05" stroke="#000" stroke-width="1.7" stroke-linecap="round" fill="none"/>
<rect x="304.8" y="2.3" width="13.3" height="15.2" fill="#595959" stroke="#4a4a4a" stroke-width="1"/>
<rect x="456.9" y="2.3" width="14.3" height="14.9" fill="#bdbdbd" stroke="#b2b2b2" stroke-width="1"/>
<text x="39.5" y="13.8" class="tb" style="font-size:16.2px" textLength="184.5" lengthAdjust="spacingAndGlyphs">Experimental populations</text>
<text x="39.8" y="35.6" class="tr" style="font-size:15.9px" textLength="53" lengthAdjust="spacingAndGlyphs">pair MF</text>
<text x="39.4" y="135.8" class="tr" style="font-size:15.9px" textLength="184.8" lengthAdjust="spacingAndGlyphs">group MFFF and MMMFFF</text>
<text x="35.2" y="261.8" class="tb" style="font-size:16.2px" textLength="92.2" lengthAdjust="spacingAndGlyphs">Captive pairs</text>
<text x="35.2" y="284.2" class="tr" style="font-size:15.9px" textLength="98.5" lengthAdjust="spacingAndGlyphs">OW-n females</text>
<text x="29.1" y="382.8" class="tr" style="font-size:17.0px" textLength="97.9" lengthAdjust="spacingAndGlyphs">YY-n females</text>
<text x="28.9" y="481.6" class="tr" style="font-size:17.0px" textLength="98.1" lengthAdjust="spacingAndGlyphs">YY-p females</text>
<text x="315.4" y="608.5" class="tb" style="font-size:16.4px" textLength="136.7" lengthAdjust="spacingAndGlyphs">Experimental day</text>
<text x="325.3" y="14.1" class="tr" style="font-size:17.8px" textLength="99.9" lengthAdjust="spacingAndGlyphs">male replaced</text>
<text x="481.8" y="14.1" class="tr" style="font-size:17.8px" textLength="100.8" lengthAdjust="spacingAndGlyphs">male returned</text>
<text transform="translate(13.6,351.8) rotate(-90)" x="0" y="0" class="tb" style="font-size:15.6px" textLength="134.2" lengthAdjust="spacingAndGlyphs">Number of births</text>
<circle cx="701.9" cy="572.2" r="0.9" fill="#222"/><circle cx="701.9" cy="576" r="0.9" fill="#222"/>
</svg>
</body></html>
